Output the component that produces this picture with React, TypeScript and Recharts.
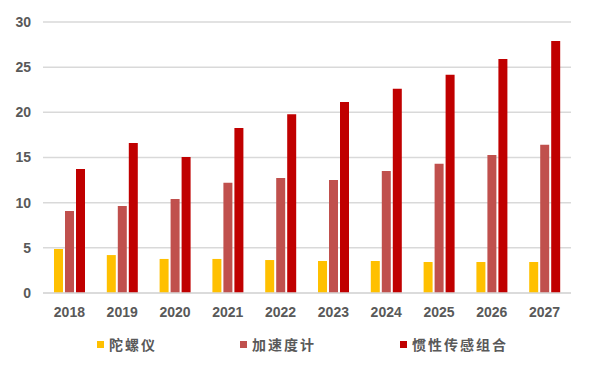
import { BarChart, Bar, XAxis, YAxis, CartesianGrid } from 'recharts';

const years = ['2018', '2019', '2020', '2021', '2022', '2023', '2024', '2025', '2026', '2027'];
const gyro = [4.87, 4.2, 3.77, 3.77, 3.65, 3.54, 3.54, 3.43, 3.43, 3.43];
const accel = [9.08, 9.63, 10.4, 12.2, 12.74, 12.5, 13.5, 14.3, 15.28, 16.4];
const combo = [13.73, 16.6, 15.06, 18.27, 19.8, 21.15, 22.6, 24.15, 25.9, 27.9];
const yTicks = [0, 5, 10, 15, 20, 25, 30];

const series = [
  { key: 'gyro', name: '陀螺仪', color: '#FFC000' },
  { key: 'accel', name: '加速度计', color: '#C0504D' },
  { key: 'combo', name: '惯性传感组合', color: '#C00000' },
];

const data = years.map((year, i) => ({
  year,
  gyro: gyro[i],
  accel: accel[i],
  combo: combo[i],
}));

const tickStyle = {
  fill: '#595959',
  fontSize: 14,
  fontWeight: 700,
  fontFamily: '"Liberation Sans", Arial, sans-serif',
};

const legendX = [97, 240, 400];

function LegendRow() {
  return (
    <div style={{ position: 'absolute', left: 0, top: 334, width: 594, height: 20 }}>
      {series.map((s, i) => (
        <div
          key={s.key}
          style={{
            position: 'absolute',
            left: legendX[i],
            top: 0,
            height: 20,
            display: 'flex',
            alignItems: 'center',
            fontFamily: '"Noto Sans CJK SC", sans-serif',
            fontSize: 14,
            fontWeight: 700,
            letterSpacing: 2,
            color: '#595959',
            whiteSpace: 'nowrap',
          }}
        >
          <span style={{ display: 'inline-block', width: 7, height: 7, background: s.color, marginRight: 5 }} />
          {s.name}
        </div>
      ))}
    </div>
  );
}

export default function App() {
  return (
    <div style={{ position: 'absolute', left: 0, top: 0, width: 594, height: 374, background: '#fff' }}>
      <BarChart
        width={594}
        height={374}
        data={data}
        margin={{ top: 22, right: 23, left: 0, bottom: 41 }}
        barCategoryGap={11}
        barGap={2}
      >
        <CartesianGrid vertical={false} stroke="#d9d9d9" strokeWidth={1.5} />
        <XAxis
          dataKey="year"
          tickLine={false}
          axisLine={{ stroke: '#d9d9d9', strokeWidth: 1.5 }}
          tick={tickStyle}
          tickMargin={8}
          height={40}
        />
        <YAxis
          domain={[0, 30]}
          ticks={yTicks}
          width={43}
          axisLine={false}
          tickLine={false}
          tickSize={0}
          tickMargin={12}
          tick={tickStyle}
        />
        {series.map((s) => (
          <Bar key={s.key} dataKey={s.key} name={s.name} fill={s.color} isAnimationActive={false} />
        ))}
      </BarChart>
      <LegendRow />
    </div>
  );
}
